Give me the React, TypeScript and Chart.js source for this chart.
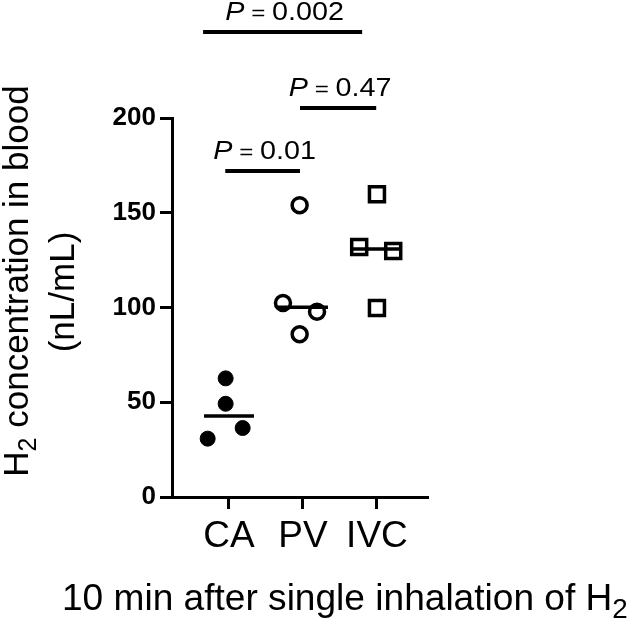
import React, { useEffect, useRef } from 'react';
import { Chart, registerables } from 'chart.js';

Chart.register(...registerables);

const FONT = '"Liberation Sans", Arial, Helvetica, sans-serif';

const categories = ['CA', 'PV', 'IVC'];
const caValues = [62.6, 49.2, 36.4, 30.8];
const caX = [0.955, 0.955, 1.185, 0.712];
const pvValues = [154.0, 102.4, 97.8, 85.9];
const pvX = [1.955, 1.73, 2.19, 1.955];
const ivcValues = [159.7, 131.9, 129.8, 99.7];
const ivcX = [3.0, 2.76, 3.22, 3.0];
const yTicks = [0, 50, 100, 150, 200];

const pLabels = ['0.01', '0.47', '0.002'];
const pStart = [0.95, 1.96, 0.65];
const pEnd = [1.96, 2.99, 2.8];
const pLevel = [172.0, 205.3, 245.4];

const yTitleMain = 'H';
const yTitleSub = '2';
const yTitleRest = ' concentration in blood';
const yTitleUnit = '(nL/mL)';
const xTitleMain = '10 min after single inhalation of H';
const xTitleSub = '2';

const median = (arr: number[]) => {
  const s = [...arr].sort((a, b) => a - b);
  const m = Math.floor(s.length / 2);
  return s.length % 2 ? s[m] : (s[m - 1] + s[m]) / 2;
};

type Seg = { text: string; font: string; dy?: number };

function drawSegs(
  ctx: CanvasRenderingContext2D,
  segs: Seg[],
  x: number,
  y: number,
  align: 'center' | 'left',
  sx = 1
) {
  const widths = segs.map((s) => {
    ctx.font = s.font;
    return ctx.measureText(s.text).width;
  });
  const total = widths.reduce((a, b) => a + b, 0) * sx;
  const start = align === 'center' ? x - total / 2 : x;
  ctx.save();
  ctx.translate(start, y);
  ctx.scale(sx, 1);
  let cx = 0;
  segs.forEach((s, i) => {
    ctx.font = s.font;
    ctx.fillText(s.text, cx, s.dy || 0);
    cx += widths[i];
  });
  ctx.restore();
}

const annotations = {
  id: 'annotations',
  afterDraw(chart: any) {
    const ctx: CanvasRenderingContext2D = chart.ctx;
    const xs = chart.scales.x;
    const ys = chart.scales.y;
    ctx.save();
    ctx.fillStyle = '#000';
    ctx.strokeStyle = '#000';
    ctx.textBaseline = 'alphabetic';
    ctx.textAlign = 'left';

    // significance bars
    pLabels.forEach((lab, i) => {
      const x1 = xs.getPixelForValue(pStart[i]);
      const x2 = xs.getPixelForValue(pEnd[i]);
      const y = ys.getPixelForValue(pLevel[i]);
      ctx.lineWidth = 4;
      ctx.beginPath();
      ctx.moveTo(x1, y);
      ctx.lineTo(x2, y);
      ctx.stroke();
      drawSegs(
        ctx,
        [
          { text: 'P', font: `italic 25px ${FONT}` },
          { text: ' = ', font: `21px ${FONT}` },
          { text: lab, font: `25px ${FONT}` },
        ],
        (x1 + x2) / 2 + 2,
        y - 12,
        'center',
        1.15
      );
    });

    // y title
    ctx.save();
    ctx.translate(28, 281);
    ctx.rotate(-Math.PI / 2);
    drawSegs(
      ctx,
      [
        { text: yTitleMain, font: `35px ${FONT}` },
        { text: yTitleSub, font: `25px ${FONT}`, dy: 8 },
        { text: yTitleRest, font: `35px ${FONT}` },
      ],
      0,
      0,
      'center'
    );
    ctx.restore();
    ctx.save();
    ctx.translate(74, 292);
    ctx.rotate(-Math.PI / 2);
    drawSegs(ctx, [{ text: yTitleUnit, font: `35px ${FONT}` }], 0, 0, 'center');
    ctx.restore();

    // x title
    drawSegs(
      ctx,
      [
        { text: xTitleMain, font: `36px ${FONT}` },
        { text: xTitleSub, font: `27px ${FONT}`, dy: 8 },
      ],
      62,
      610,
      'left',
      1.03
    );
    ctx.restore();
  },
};

export default function App() {
  const ref = useRef<HTMLCanvasElement | null>(null);
  useEffect(() => {
    if (!ref.current) return;
    const pts = (xs: number[], ys: number[]) => ys.map((v, i) => ({ x: xs[i], y: v }));
    const medLine = (vals: number[], idx: number) => {
      const m = median(vals);
      return [
        { x: idx + 1 - 0.338, y: m },
        { x: idx + 1 + 0.338, y: m },
      ];
    };
    const chart = new Chart(ref.current, {
      type: 'scatter',
      data: {
        datasets: [
          {
            label: 'CA',
            data: pts(caX, caValues),
            pointStyle: 'circle',
            pointRadius: 7.5,
            backgroundColor: '#000',
            borderColor: '#000',
            borderWidth: 1,
            order: 0,
          },
          {
            label: 'PV',
            data: pts(pvX, pvValues),
            pointStyle: 'circle',
            pointRadius: 7.5,
            backgroundColor: 'rgba(0,0,0,0)',
            borderColor: '#000',
            borderWidth: 3.5,
            order: 0,
          },
          {
            label: 'IVC',
            data: pts(ivcX, ivcValues),
            pointStyle: 'rect',
            pointRadius: 10.6,
            backgroundColor: 'rgba(0,0,0,0)',
            borderColor: '#000',
            borderWidth: 3.5,
            order: 0,
          },
          ...[caValues, pvValues, ivcValues].map((vals, i) => ({
            label: 'median ' + categories[i],
            data: medLine(vals, i),
            showLine: true,
            pointRadius: 0,
            borderColor: '#000',
            borderWidth: 3.5,
            order: 1,
          })),
        ],
      },
      options: {
        responsive: false,
        animation: false,
        layout: { padding: { top: 118, right: 201, left: 0, bottom: 0 } },
        plugins: { legend: { display: false }, tooltip: { enabled: false } },
        scales: {
          x: {
            type: 'linear',
            min: 0.23,
            max: 3.69,
            afterBuildTicks: (s: any) => {
              s.ticks = categories.map((_, i) => ({ value: i + 1 }));
            },
            afterFit: (s: any) => {
              s.height = 122;
            },
            ticks: {
              callback: (v: any) => categories[Math.round(Number(v)) - 1],
              font: { family: FONT, size: 37 },
              color: '#000',
              padding: 6,
              maxRotation: 0,
              autoSkip: false,
            },
            grid: { drawOnChartArea: false, tickLength: 12, tickWidth: 3, tickColor: '#000' },
            border: { color: '#000', width: 3 },
          },
          y: {
            type: 'linear',
            min: 0,
            max: 200,
            afterBuildTicks: (s: any) => {
              s.ticks = yTicks.map((v) => ({ value: v }));
            },
            afterFit: (s: any) => {
              s.width = 172;
            },
            ticks: {
              font: { family: FONT, size: 26, weight: 'bold' },
              color: '#000',
              padding: 4,
            },
            grid: { drawOnChartArea: false, tickLength: 12, tickWidth: 3, tickColor: '#000' },
            border: { color: '#000', width: 3 },
          },
        },
      },
      plugins: [annotations],
    } as any);
    return () => chart.destroy();
  }, []);
  return (
    <div style={{ position: 'fixed', left: 0, top: 0, width: 629, height: 619, background: '#fff' }}>
      <canvas ref={ref} width={629} height={619} style={{ display: 'block' }} />
    </div>
  );
}
